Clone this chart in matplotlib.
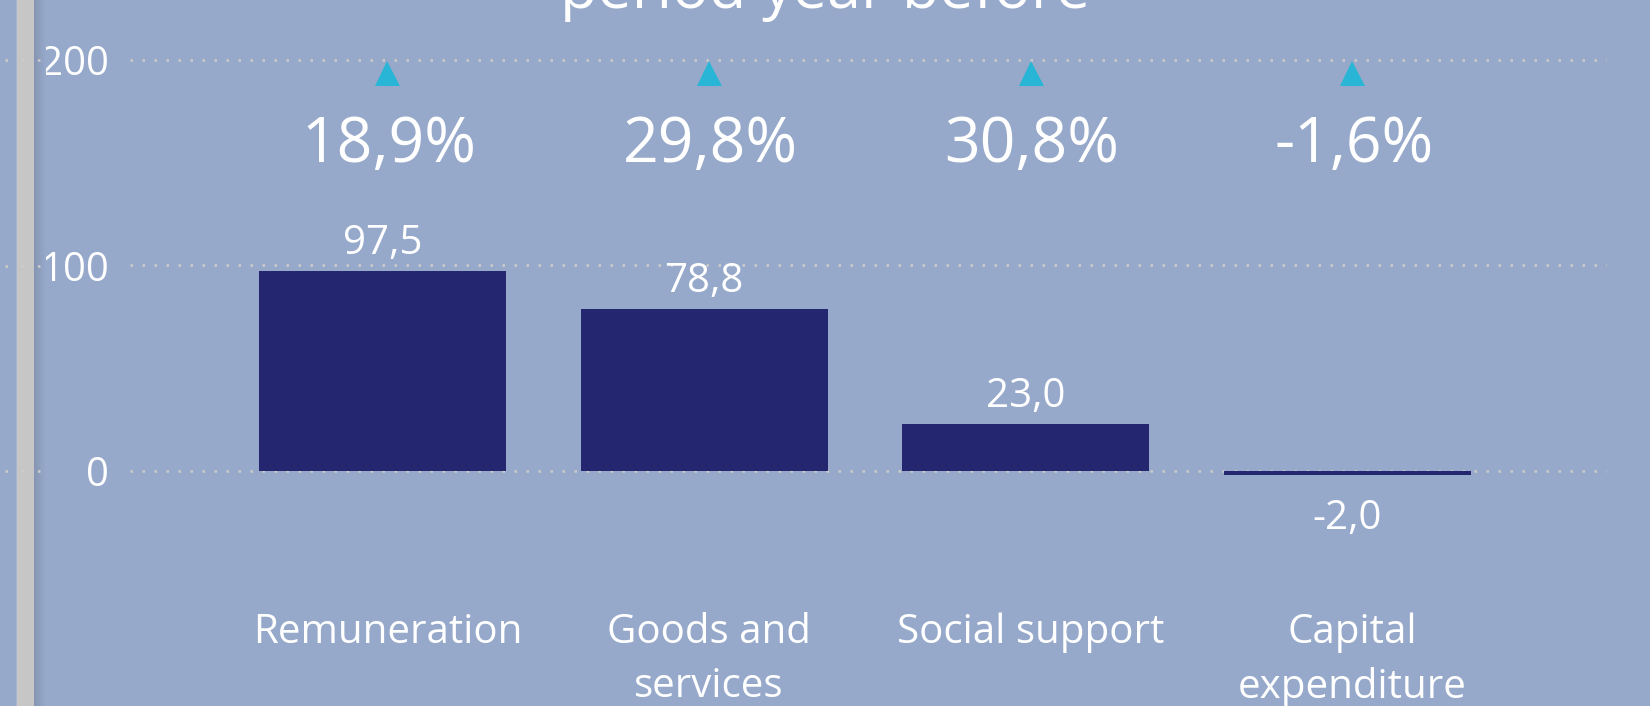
import matplotlib
matplotlib.use("Agg")
import matplotlib.pyplot as plt
import numpy as np
from matplotlib.patches import Rectangle

plt.rcParams['font.family'] = ['Open Sans', 'DejaVu Sans']

# ---- data ----
categories = ["Remuneration", "Goods and\nservices", "Social support", "Capital\nexpenditure"]
values = [97.5, 78.8, 23.0, -2.0]
value_labels = ["97,5", "78,8", "23,0", "-2,0"]
pct_labels = ["18,9%", "29,8%", "30,8%", "-1,6%"]
yticks = [0, 100, 200]
ytick_labels = ["0", "100", "200"]
title_visible = "period year before"

BG = "#96A9CA"
BAR = "#24276F"
TRI = "#29B5D5"
GRID = "#CFCDC9"
W, H = 1650, 706

fig = plt.figure(figsize=(W / 100, H / 100), dpi=100, facecolor=BG)

# axes spans gridline extent horizontally, full height vertically
ax = fig.add_axes([130 / W, 0, (1607 - 130) / W, 1])
ax.set_facecolor("none")
ax.set_xlim(-0.785, 3.807)
ax.set_ylim(-114.4, 229.2)
for s in ax.spines.values():
    s.set_visible(False)

x = np.arange(len(categories))

# gridlines
for yt in yticks:
    ax.axhline(yt, color=GRID, lw=1.8, linestyle=(0, (1, 3.8)), zorder=0)

ax.bar(x, values, width=0.768, color=BAR, zorder=2)

ax.set_yticks(yticks)
ax.set_yticklabels(ytick_labels, fontsize=29, color="white")
ax.tick_params(axis="y", length=0, pad=15)
for lab in ax.get_yticklabels():
    lab.set_verticalalignment("center_baseline")
ax.set_xticks([])

# value labels
for xi, v, lab in zip(x, values, value_labels):
    if v >= 0:
        ax.annotate(lab, (xi, v), xytext=(0, 12), textcoords="offset points",
                    ha="center", va="baseline", fontsize=29, color="white")
    else:
        ax.annotate(lab, (xi, v), xytext=(0, -39), textcoords="offset points",
                    ha="center", va="baseline", fontsize=29, color="white")

# triangles and percent labels
ax.plot(x + 0.015, [193.9] * len(x), linestyle="none", marker="^", markersize=18,
        color=TRI, markeredgewidth=0, zorder=3)
for xi, lab in zip(x, pct_labels):
    ax.text(xi + 0.02, 150.4, lab, ha="center", va="baseline", fontsize=45, color="white")

# category labels
for xi, lab in zip(x, categories):
    ax.text(xi + 0.015, -69, lab, ha="center", va="top", fontsize=29, color="white",
            linespacing=1.45)

# visible part of title (cut off at top)
fig.text(0.5, 1 - 8 / H, title_visible, ha="center", va="baseline", fontsize=44, color="white")

# left decorations: small grid dots, scroll strip and shadow
for yt in yticks:
    ypix = 471 - yt * 2.055
    fig.add_artist(plt.Line2D([5 / W, 50 / W], [1 - ypix / H] * 2, color=GRID, lw=1.8,
                              linestyle=(0, (1, 5.5)), transform=fig.transFigure))
fig.add_artist(Rectangle((16 / W, 0), 1 / W, 1, transform=fig.transFigure, color="#A7B6D2", lw=0))
fig.add_artist(Rectangle((17 / W, 0), 17 / W, 1, transform=fig.transFigure, color="#C6C6C6", lw=0))
shade = np.linspace(0, 1, 12)
for i, t in enumerate(shade):
    c = np.array([0x86, 0x95, 0xB3]) * (1 - t) + np.array([0x96, 0xA9, 0xCA]) * t
    fig.add_artist(Rectangle(((34 + i) / W, 0), 1 / W, 1, transform=fig.transFigure,
                             color=c / 255, lw=0))

fig.savefig("out.png", dpi=100, facecolor=BG)
